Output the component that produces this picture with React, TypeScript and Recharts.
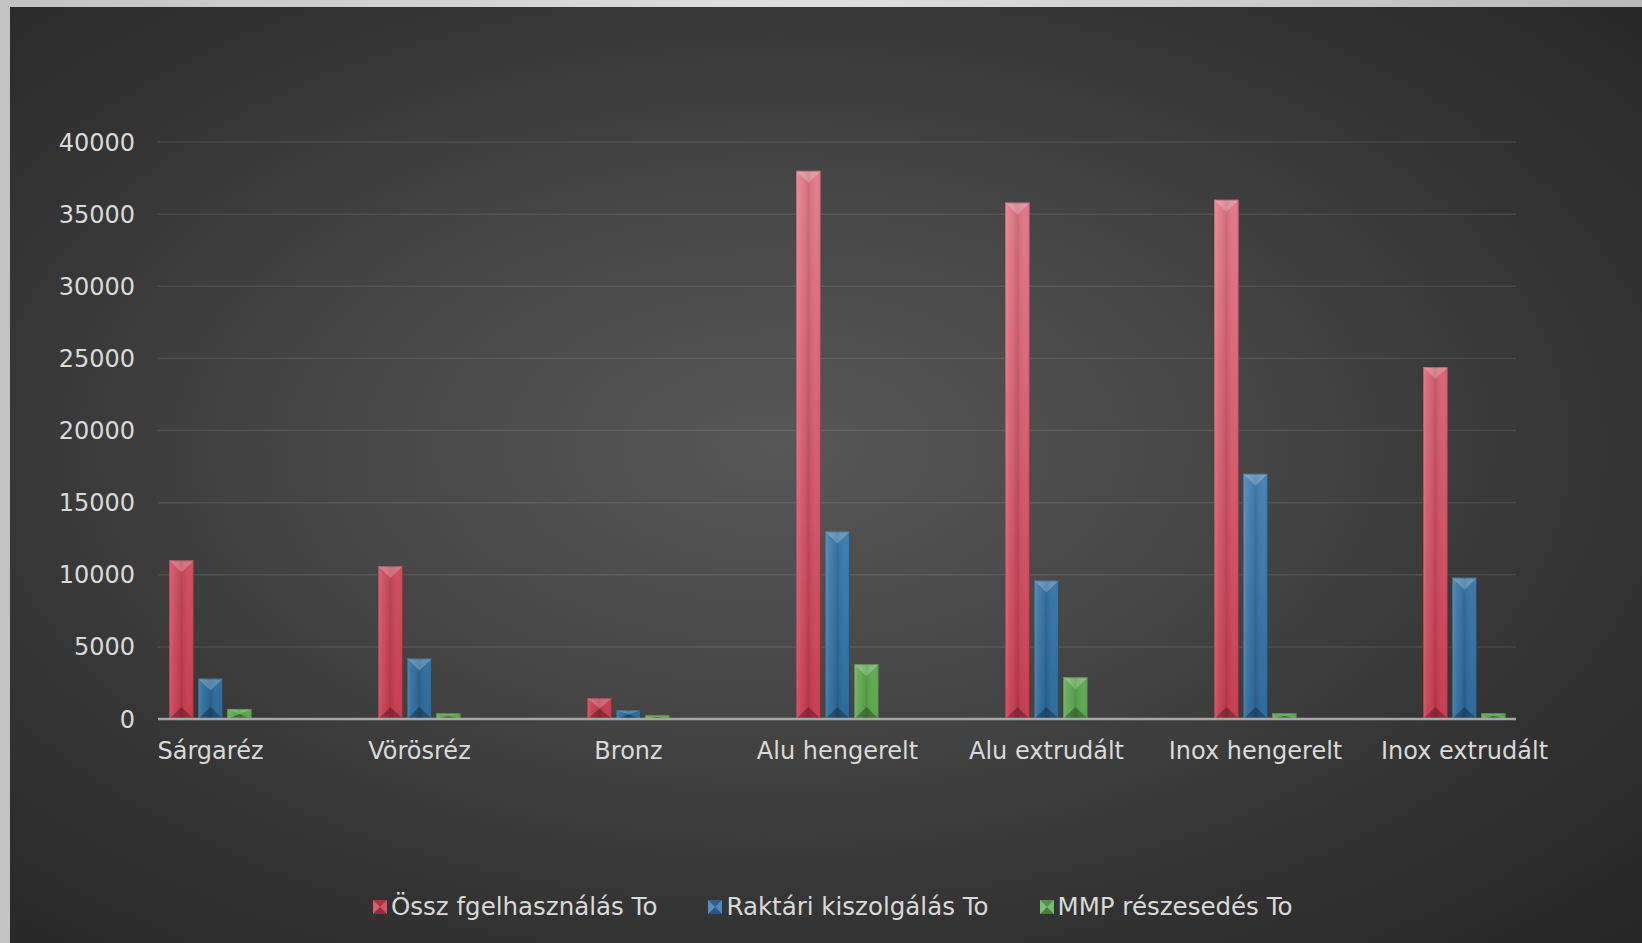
import React from 'react';
import { BarChart, Bar, XAxis, YAxis, CartesianGrid } from 'recharts';

const categories = ['Sárgaréz', 'Vörösréz', 'Bronz', 'Alu hengerelt', 'Alu extrudált', 'Inox hengerelt', 'Inox extrudált'];
const osszValues = [11000, 10600, 1450, 38000, 35800, 36000, 24400];
const raktariValues = [2800, 4200, 620, 13000, 9600, 17000, 9800];
const mmpValues = [700, 400, 280, 3800, 2900, 400, 400];
const seriesNames = ['Össz fgelhasználás To', 'Raktári kiszolgálás To', 'MMP részesedés To'];
const yTicks = [0, 5000, 10000, 15000, 20000, 25000, 30000, 35000, 40000];

const seriesKeys = ['ossz', 'raktari', 'mmp'];
const seriesColors = ['#cf4458', '#3a7bb2', '#6ab45c'];
const seriesGrad = ['gRed', 'gBlue', 'gGreen'];

const data = categories.map((name, i) => ({
  name,
  ossz: osszValues[i],
  raktari: raktariValues[i],
  mmp: mmpValues[i],
}));

const FONT = "'DejaVu Sans', Verdana, sans-serif";

const makeShape = (gradId: string) => (props: any) => {
  const { x, y, width, height } = props;
  if (!height || height <= 0) return <g />;
  const w = width;
  const h = height;
  const b = Math.min(w / 2, h / 2, 12);
  return (
    <g>
      <rect x={x} y={y} width={w} height={h} fill={`url(#${gradId})`} />
      <rect x={x} y={y} width={w} height={h} fill="url(#gShade)" />
      <polygon points={`${x},${y} ${x + w},${y} ${x + w / 2},${y + b}`} fill="rgba(255,255,255,0.22)" />
      <polygon points={`${x},${y + h} ${x + w},${y + h} ${x + w / 2},${y + h - b}`} fill="rgba(0,0,0,0.28)" />
      <rect x={x + 0.5} y={y + 0.5} width={w - 1} height={h - 1} fill="none" stroke="rgba(0,0,0,0.22)" strokeWidth={1} />
    </g>
  );
};

const LegendMarker = ({ color }: { color: string }) => (
  <svg width={14} height={14} style={{ display: 'block' }}>
    <rect x={0} y={0} width={14} height={14} fill={color} />
    <polygon points="0,0 14,0 7,7" fill="rgba(0,0,0,0.2)" />
    <polygon points="0,14 14,14 7,7" fill="rgba(0,0,0,0.3)" />
    <polygon points="0,0 0,14 7,7" fill="rgba(255,255,255,0.15)" />
    <polygon points="14,0 14,14 7,7" fill="rgba(255,255,255,0.1)" />
  </svg>
);

export default function App() {
  return (
    <div style={{ position: 'fixed', left: 0, top: 0, width: 1642, height: 943, overflow: 'hidden', fontFamily: FONT }}>
      <div style={{ position: 'absolute', left: 0, top: 0, width: 1642, height: 943, background: 'linear-gradient(90deg, #c2c2c2 0%, #e0e0e0 50%, #b8b8b8 100%)' }} />
      <div
        style={{
          position: 'absolute',
          left: 10,
          top: 7,
          width: 1632,
          height: 936,
          background: 'radial-gradient(ellipse farthest-corner at 47% 47%, #575757 0%, #474747 35%, #333333 70%, #262626 100%)',
        }}
      />
      <svg width={0} height={0} style={{ position: 'absolute' }}>
        <defs>
          <linearGradient id="gRed" gradientUnits="userSpaceOnUse" x1={0} y1={142} x2={0} y2={719}>
            <stop offset="0%" stopColor="#e5808f" />
            <stop offset="100%" stopColor="#c63a4e" />
          </linearGradient>
          <linearGradient id="gBlue" gradientUnits="userSpaceOnUse" x1={0} y1={142} x2={0} y2={719}>
            <stop offset="0%" stopColor="#6aa4d6" />
            <stop offset="100%" stopColor="#2a6898" />
          </linearGradient>
          <linearGradient id="gGreen" gradientUnits="userSpaceOnUse" x1={0} y1={142} x2={0} y2={719}>
            <stop offset="0%" stopColor="#9ad68a" />
            <stop offset="100%" stopColor="#5aa64c" />
          </linearGradient>
          <linearGradient id="gShade" x1={0} y1={0} x2={1} y2={0}>
            <stop offset="0%" stopColor="#ffffff" stopOpacity={0.18} />
            <stop offset="18%" stopColor="#ffffff" stopOpacity={0.06} />
            <stop offset="50%" stopColor="#000000" stopOpacity={0.1} />
            <stop offset="85%" stopColor="#ffffff" stopOpacity={0.02} />
            <stop offset="100%" stopColor="#000000" stopOpacity={0.12} />
          </linearGradient>
        </defs>
      </svg>
      <div style={{ position: 'absolute', left: 0, top: 0 }}>
        <BarChart
          width={1642}
          height={943}
          data={data}
          margin={{ top: 142, right: 126, left: 0, bottom: 164 }}
          barSize={25}
          barGap={4}
        >
          <CartesianGrid horizontal={true} vertical={false} stroke="rgba(255,255,255,0.09)" strokeWidth={1.5} />
          <XAxis
            dataKey="name"
            height={60}
            padding={{ left: -52, right: -53 }}
            axisLine={{ stroke: '#a6a6a6', strokeWidth: 2.5 }}
            tickLine={false}
            tickSize={0}
            tickMargin={23}
            interval={0}
            tick={{ fill: '#d9d9d9', fontSize: 24, fontFamily: FONT }}
          />
          <YAxis
            width={158}
            domain={[0, 40000]}
            ticks={yTicks}
            axisLine={false}
            tickLine={false}
            tickSize={0}
            tickMargin={23}
            tick={{ fill: '#d9d9d9', fontSize: 24, fontFamily: FONT }}
          />
          {seriesKeys.map((k, i) => (
            <Bar key={k} dataKey={k} name={seriesNames[i]} fill={seriesColors[i]} isAnimationActive={false} shape={makeShape(seriesGrad[i])} />
          ))}
        </BarChart>
      </div>
      <div style={{ position: 'absolute', left: 373, top: 892, height: 30, display: 'flex', alignItems: 'center' }}>
        {seriesNames.map((n, i) => (
          <div key={n} style={{ display: 'flex', alignItems: 'center', marginRight: i < seriesNames.length - 1 ? 51 : 0 }}>
            <LegendMarker color={seriesColors[i]} />
            <span style={{ marginLeft: 4, color: '#d9d9d9', fontSize: 24.5, fontFamily: FONT, whiteSpace: 'nowrap', lineHeight: '30px' }}>{n}</span>
          </div>
        ))}
      </div>
    </div>
  );
}
